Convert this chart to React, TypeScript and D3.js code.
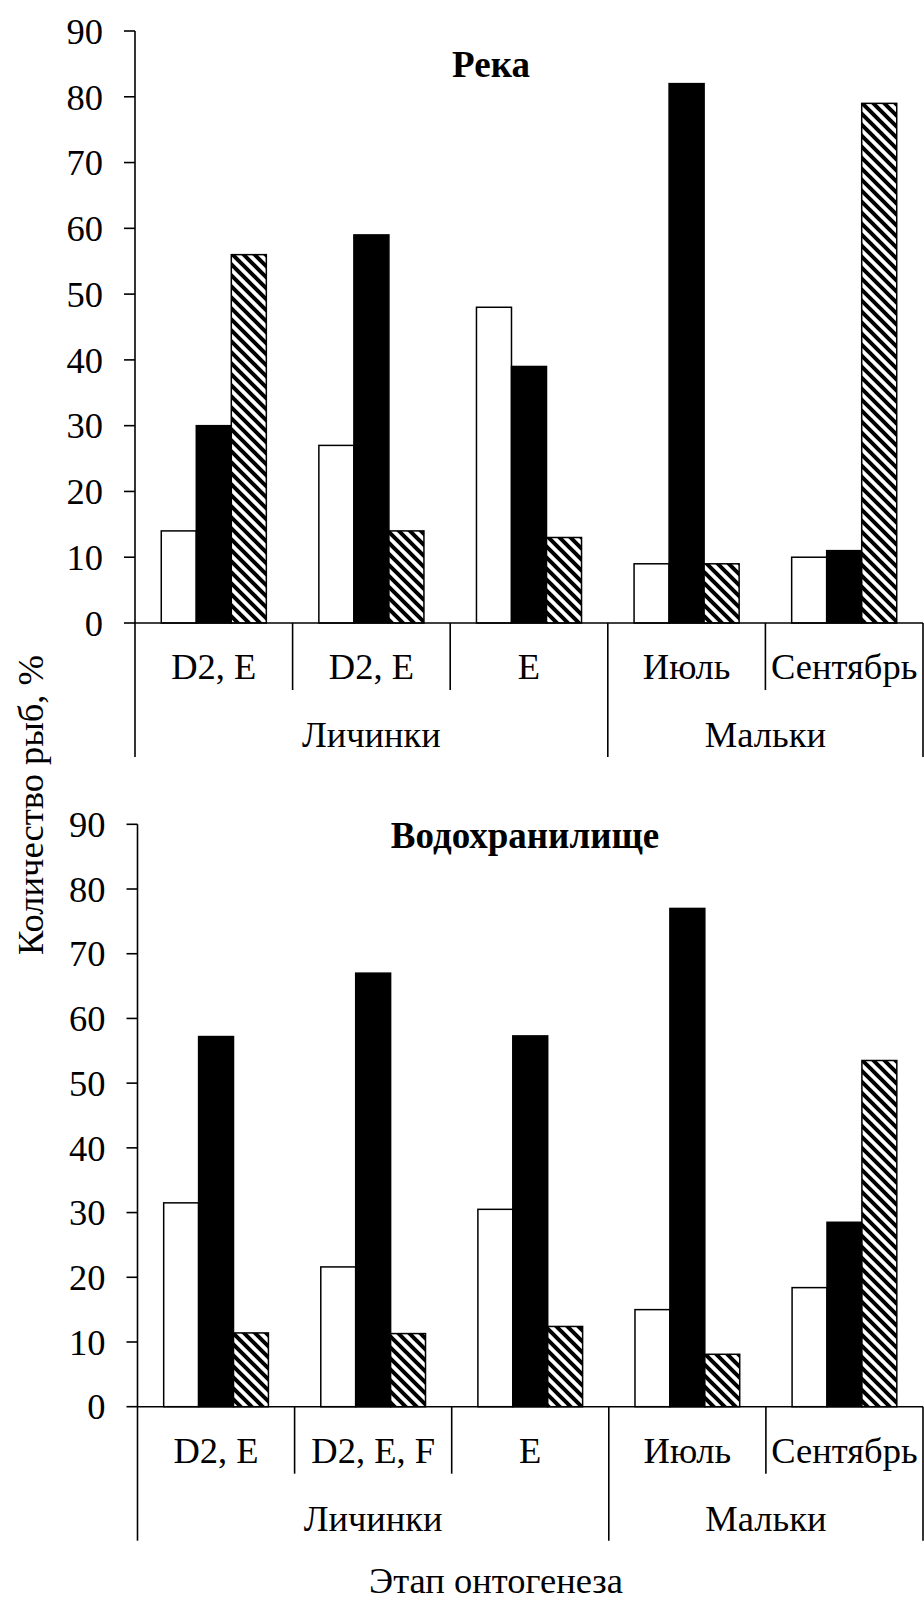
import React from 'react';
import * as d3 from 'd3';

// category labels of the two panels
const riverCategories = ['D2, E', 'D2, E', 'E', 'Июль', 'Сентябрь'];
const reservoirCategories = ['D2, E', 'D2, E, F', 'E', 'Июль', 'Сентябрь'];

// group labels under the categories, and how many categories each spans
const groupLabels = ['Личинки', 'Мальки'];
const groupSizes = [3, 2];

// series: white, black, hatched
const seriesKeys = ['white', 'black', 'hatch'];

const riverWhite = [14, 27, 48, 9, 10];
const riverBlack = [30, 59, 39, 82, 11];
const riverHatch = [56, 14, 13, 9, 79];

const reservoirWhite = [31.5, 21.6, 30.5, 15, 18.4];
const reservoirBlack = [57.2, 67, 57.3, 77, 28.5];
const reservoirHatch = [11.4, 11.3, 12.4, 8.1, 53.5];

const yTicks = [0, 10, 20, 30, 40, 50, 60, 70, 80, 90];

const FONT = "'Liberation Serif', 'Times New Roman', serif";
const FS = 36.5;
const W = 924;
const H = 1600;

const fills = { white: '#fff', black: '#000', hatch: 'url(#hatch)' };

type PanelProps = {
  title: string;
  titleX: number;
  titleY: number;
  categories: string[];
  values: number[][];
  x0: number;
  x1: number;
  yBase: number;
  yTop: number;
};

const Panel = ({ title, titleX, titleY, categories, values, x0, x1, yBase, yTop }: PanelProps) => {
  const y = d3.scaleLinear().domain([0, 90]).range([yBase, yTop]);
  const x = d3.scaleBand<number>()
    .domain(d3.range(categories.length))
    .range([x0, x1])
    .padding(0);
  const xs = d3.scaleBand<string>()
    .domain(seriesKeys)
    .range([0, x.bandwidth()])
    .paddingInner(0)
    .paddingOuter(0.75);

  // boundaries between categories; group edges get long lines
  const groupEdges = [0];
  groupSizes.forEach(s => groupEdges.push(groupEdges[groupEdges.length - 1] + s));

  let start = 0;
  const groups = groupLabels.map((g, i) => {
    const a = start;
    start += groupSizes[i];
    return { label: g, a, b: start };
  });

  return (
    <g>
      {categories.map((c, i) =>
        seriesKeys.map((k, j) => {
          const v = values[j][i];
          return (
            <rect key={`${i}-${k}`}
              x={x(i)! + xs(k)!}
              y={y(v)}
              width={xs.bandwidth()}
              height={y(0) - y(v)}
              fill={fills[k]}
              stroke="#000"
              strokeWidth={1.5} />
          );
        })
      )}

      {/* y axis */}
      <line x1={x0} x2={x0} y1={yTop} y2={yBase} stroke="#000" strokeWidth={1.6} />
      {yTicks.map(t => (
        <g key={t}>
          <line x1={x0 - 11} x2={x0} y1={y(t)} y2={y(t)} stroke="#000" strokeWidth={1.6} />
          <text x={x0 - 32} y={y(t)} dy="0.35em" textAnchor="end" fontSize={FS}>{t}</text>
        </g>
      ))}

      {/* x axis */}
      <line x1={x0} x2={x1} y1={yBase} y2={yBase} stroke="#000" strokeWidth={1.6} />
      {d3.range(categories.length + 1).map(i => {
        const long = groupEdges.includes(i);
        const xx = i < categories.length ? x(i)! : x1;
        return (
          <line key={i} x1={xx} x2={xx} y1={yBase}
            y2={yBase + (long ? 134 : 67)} stroke="#000" strokeWidth={1.6} />
        );
      })}
      {categories.map((c, i) => (
        <text key={i} x={x(i)! + x.bandwidth() / 2} y={yBase + 56}
          textAnchor="middle" fontSize={FS}>{c}</text>
      ))}
      {groups.map(g => {
        const gx0 = x(g.a)!;
        const gx1 = g.b < categories.length ? x(g.b)! : x1;
        return (
          <text key={g.label} x={(gx0 + gx1) / 2} y={yBase + 124}
            textAnchor="middle" fontSize={FS}>{g.label}</text>
        );
      })}

      <text x={titleX} y={titleY} textAnchor="middle" fontSize={37} fontWeight="bold">{title}</text>
    </g>
  );
};

export default function App() {
  return (
    <div style={{ position: 'absolute', left: 0, top: 0 }}>
      <svg width={W} height={H} style={{ display: 'block', background: '#fff', fontFamily: FONT }}>
        <defs>
          <pattern id="hatch" patternUnits="userSpaceOnUse" width={11} height={11}>
            <rect width={11} height={11} fill="#fff" />
            <path d="M-3,-3 L14,14 M-3,8 L3,14 M8,-3 L14,3" stroke="#000" strokeWidth={4} />
          </pattern>
        </defs>
        <Panel title="Река" titleX={491} titleY={77}
          categories={riverCategories}
          values={[riverWhite, riverBlack, riverHatch]}
          x0={135} x1={923} yBase={623} yTop={31} />
        <Panel title="Водохранилище" titleX={525} titleY={848}
          categories={reservoirCategories}
          values={[reservoirWhite, reservoirBlack, reservoirHatch]}
          x0={137.5} x1={923} yBase={1406.7} yTop={824.3} />
        <text transform="translate(43,805) rotate(-90)" textAnchor="middle"
          fontSize={FS}>Количество рыб, %</text>
        <text x={496} y={1593} textAnchor="middle" fontSize={FS}>Этап онтогенеза</text>
      </svg>
    </div>
  );
}
